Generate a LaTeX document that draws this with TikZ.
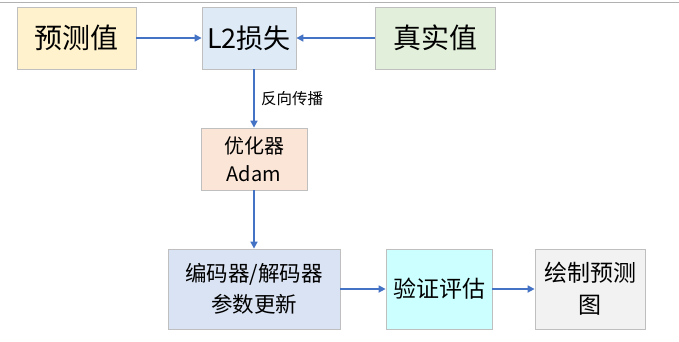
\documentclass[tikz,border=0pt]{standalone}
\usepackage{fontspec}
\setmainfont{Noto Sans CJK SC}
\usetikzlibrary{arrows.meta}
\definecolor{cyellow}{HTML}{FFF2CC}
\definecolor{cblue}{HTML}{DEEBF7}
\definecolor{cgreen}{HTML}{E2EFDA}
\definecolor{corange}{HTML}{FBE5D6}
\definecolor{clav}{HTML}{DAE3F3}
\definecolor{ccyan}{HTML}{CCFFFF}
\definecolor{cgray}{HTML}{F2F2F2}
\definecolor{cborder}{HTML}{BFBFBF}
\definecolor{carrow}{HTML}{4472C4}
\tikzset{
  box/.style={draw=cborder, line width=0.8pt, inner sep=0pt, align=center},
  conn/.style={draw=carrow, line width=1.6pt, -{Triangle[length=7pt,width=7pt]}},
}
\begin{document}
\begin{tikzpicture}[x=1pt,y=-1pt]
\useasboundingbox (0,0) rectangle (679,341);
\fill[white] (0,0) rectangle (679,341);
\draw[gray!60, line width=0.6pt] (0,2) -- (679,2);
\node[box, fill=cyellow, minimum width=119pt, minimum height=62pt, font=\fontsize{28}{30}\selectfont] (pred) at (76.5,38) {预测值};
\node[box, fill=cblue, minimum width=94pt, minimum height=62pt, font=\fontsize{27}{30}\selectfont] (loss) at (249,38) {L2损失};
\node[box, fill=cgreen, minimum width=120pt, minimum height=62pt, font=\fontsize{28}{30}\selectfont] (true) at (435,38) {真实值};
\node[box, fill=corange, minimum width=106pt, minimum height=62pt, font=\fontsize{20}{28}\selectfont] (opt) at (254,159) {优化器\\Adam};
\node[box, fill=clav, minimum width=172pt, minimum height=80pt, font=\fontsize{21.5}{31}\selectfont] (enc) at (254,289) {编码器/解码器\\参数更新};
\node[box, fill=ccyan, minimum width=106pt, minimum height=80pt, font=\fontsize{23}{26}\selectfont] (val) at (439,289) {验证评估};
\node[box, fill=cgray, minimum width=110pt, minimum height=80pt, font=\fontsize{23}{32}\selectfont] (plot) at (590,289) {绘制预测\\图};
\draw[conn] (pred.east) -- (loss.west);
\draw[conn] (true.west) -- (loss.east);
\draw[conn] (loss.south -| opt.north) -- (opt.north) node[midway, right, xshift=3pt, font=\fontsize{15.5}{18}\selectfont, text=black] (bp) {反向传播};
\draw[conn] (opt.south) -- (enc.north);
\draw[conn] (enc.east |- val.west) -- (val.west);
\draw[conn] (val.east) -- (plot.west);
\end{tikzpicture}
\end{document}
